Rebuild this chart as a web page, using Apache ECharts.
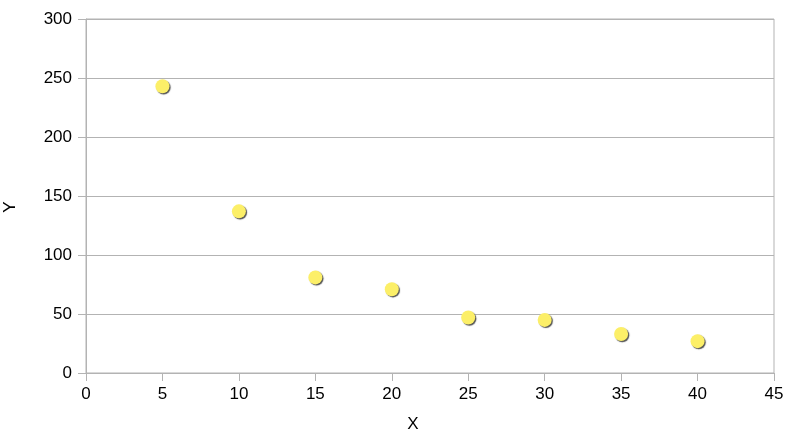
<!DOCTYPE html>
<html>
<head>
<meta charset="utf-8">
<script src="https://cdn.jsdelivr.net/npm/echarts@6/dist/echarts.min.js"></script>
<style>
html,body{margin:0;padding:0;background:#fff;}
#c{width:799px;height:439px;}
</style>
</head>
<body>
<div id="c"></div>
<script>
const xValues = [5, 10, 15, 20, 25, 30, 35, 40];
const yValues = [243, 137, 81, 71, 47, 45, 33, 27];
const xAxisName = 'X';
const yAxisName = 'Y';

const points = xValues.map((x, i) => [x, yValues[i]]);
const chart = echarts.init(document.getElementById('c'), null, {renderer: 'canvas'});
const gray = '#b3b3b3';
const font = 'Liberation Sans, Arial, sans-serif';
chart.setOption({
  animation: false,
  backgroundColor: '#ffffff',
  grid: {left: 86, right: 25, top: 19, bottom: 66, show: true, borderColor: gray, borderWidth: 1,
         containLabel: false, outerBoundsMode: 'none'},
  xAxis: {
    type: 'value', min: 0, max: 45, interval: 5,
    name: xAxisName, nameLocation: 'middle', nameGap: 43,
    nameTextStyle: {fontFamily: font, fontSize: 17, color: '#000', padding: [0, 34, 0, 0]},
    axisLine: {show: true, lineStyle: {color: gray, width: 1}},
    axisTick: {show: true, length: 8, lineStyle: {color: gray}},
    axisLabel: {fontFamily: font, fontSize: 17, color: '#000', margin: 13},
    splitLine: {show: false}
  },
  yAxis: {
    type: 'value', min: 0, max: 300, interval: 50,
    name: yAxisName, nameLocation: 'middle', nameGap: 67,
    nameTextStyle: {fontFamily: font, fontSize: 17, color: '#000', padding: [0, 22, 0, 0]},
    axisLine: {show: true, lineStyle: {color: gray, width: 1}},
    axisTick: {show: true, length: 8, lineStyle: {color: gray}},
    axisLabel: {fontFamily: font, fontSize: 17, color: '#000', margin: 14},
    splitLine: {show: true, lineStyle: {color: gray, width: 1}}
  },
  series: [{
    type: 'scatter',
    data: points,
    symbol: 'circle',
    symbolSize: 14,
    itemStyle: {
      color: '#fcef68',
      opacity: 1,
      shadowColor: 'rgba(40,40,40,0.8)',
      shadowBlur: 1,
      shadowOffsetX: 1.2,
      shadowOffsetY: 1.2
    }
  }]
});
</script>
</body>
</html>
